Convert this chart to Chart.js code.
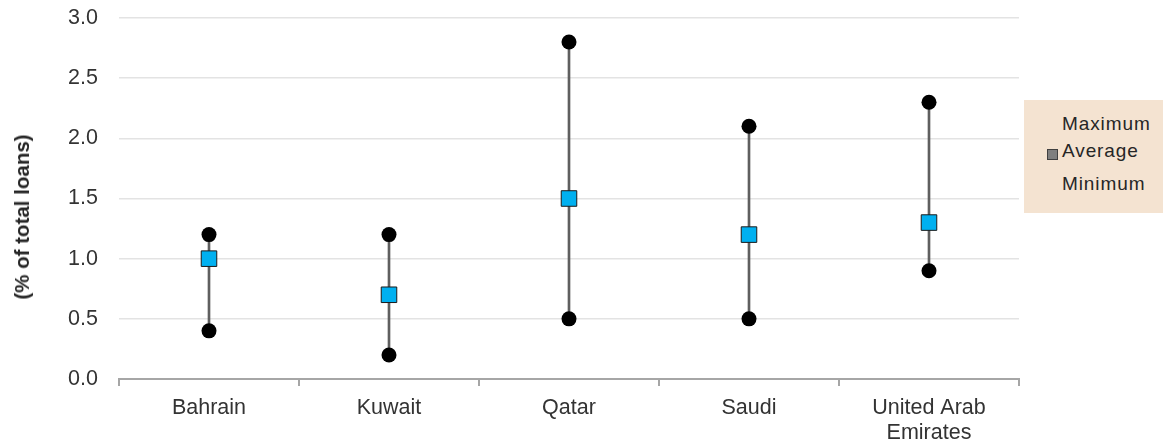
<!DOCTYPE html>
<html>
<head>
<meta charset="utf-8">
<script src="https://cdn.jsdelivr.net/npm/chart.js@4.4.1/dist/chart.umd.min.js"></script>
<style>
  html, body { margin: 0; padding: 0; background: #ffffff; }
  #wrap { position: relative; width: 1163px; height: 448px; }
  #legend {
    position: absolute; left: 1024px; top: 100px; width: 139px; height: 113px;
    background: #f4e3d1; font-family: "Liberation Sans", Arial, sans-serif;
    font-size: 19px; letter-spacing: 0.9px; color: #262626;
  }
  #legend div { position: absolute; left: 38px; white-space: nowrap; line-height: 22px; }
  #legend .mk { position: absolute; left: 23px; width: 9px; height: 9px; background: #7f7f7f; border: 1px solid #404040; }
  #ytitle {
    position: absolute; left: 22px; top: 217px; transform: translate(-50%, -50%) rotate(-90deg);
    font-family: "Liberation Sans", Arial, sans-serif; font-weight: bold; font-size: 20.5px;
    color: #262626; white-space: nowrap;
  }
</style>
</head>
<body>
<div id="wrap">
  <canvas id="c" width="1163" height="448"></canvas>
  <div id="ytitle">(% of total loans)</div>
  <div id="legend">
    <div style="top:13px">Maximum</div>
    <span class="mk" style="top:49px"></span>
    <div style="top:40px">Average</div>
    <div style="top:73px">Minimum</div>
  </div>
</div>
<script>
const categories = ["Bahrain", "Kuwait", "Qatar", "Saudi", ["United Arab", "Emirates"]];
const maximum = [1.2, 1.2, 2.8, 2.1, 2.3];
const average = [1.0, 0.7, 1.5, 1.2, 1.3];
const minimum = [0.4, 0.2, 0.5, 0.5, 0.9];
const yTicks = [0, 0.5, 1.0, 1.5, 2.0, 2.5, 3.0];

const ranges = minimum.map((m, i) => [m, maximum[i]]);
const font = "'Liberation Sans', Arial, sans-serif";

new Chart(document.getElementById('c'), {
  type: 'bar',
  data: {
    labels: categories,
    datasets: [
      { type: 'bar', label: 'Range', data: ranges, backgroundColor: '#5f5f5f',
        borderWidth: 0, barThickness: 2, order: 3 },
      { type: 'line', label: 'Maximum', data: maximum, showLine: false,
        pointStyle: 'circle', pointRadius: 7.5, pointBackgroundColor: '#000000',
        pointBorderColor: '#000000', pointBorderWidth: 0, order: 2 },
      { type: 'line', label: 'Minimum', data: minimum, showLine: false,
        pointStyle: 'circle', pointRadius: 7.5, pointBackgroundColor: '#000000',
        pointBorderColor: '#000000', pointBorderWidth: 0, order: 2 },
      { type: 'line', label: 'Average', data: average, showLine: false,
        pointStyle: 'rect', pointRadius: 11, pointBackgroundColor: '#00b0f0',
        pointBorderColor: '#1a1a1a', pointBorderWidth: 1, order: 1 }
    ]
  },
  options: {
    responsive: false,
    animation: false,
    events: [],
    layout: { padding: { top: 18, right: 144, bottom: 0, left: 0 } },
    plugins: { legend: { display: false }, tooltip: { enabled: false } },
    scales: {
      x: {
        offset: true,
        grid: { offset: true, drawOnChartArea: false, drawTicks: true, tickLength: 7, color: '#a6a6a6', lineWidth: 2 },
        border: { display: true, color: '#a6a6a6', width: 2 },
        ticks: { color: '#333333', font: { family: font, size: 21.5, lineHeight: 1.15 }, padding: 10, maxRotation: 0, autoSkip: false },
        afterFit: s => { s.height = 69; s.paddingLeft = 0; s.paddingRight = 0; }
      },
      y: {
        min: 0, max: 3,
        afterBuildTicks: s => { s.ticks = yTicks.map(v => ({ value: v })); },
        grid: { color: '#e3e3e3', lineWidth: 1.5, drawTicks: false },
        border: { display: false },
        ticks: { color: '#333333', font: { family: font, size: 21.5 }, padding: 21,
          callback: v => Number(v).toFixed(1) },
        title: { display: false },
        afterFit: s => { s.width = 119; s.paddingTop = 0; s.paddingBottom = 0; }
      }
    }
  }
});
</script>
</body>
</html>
